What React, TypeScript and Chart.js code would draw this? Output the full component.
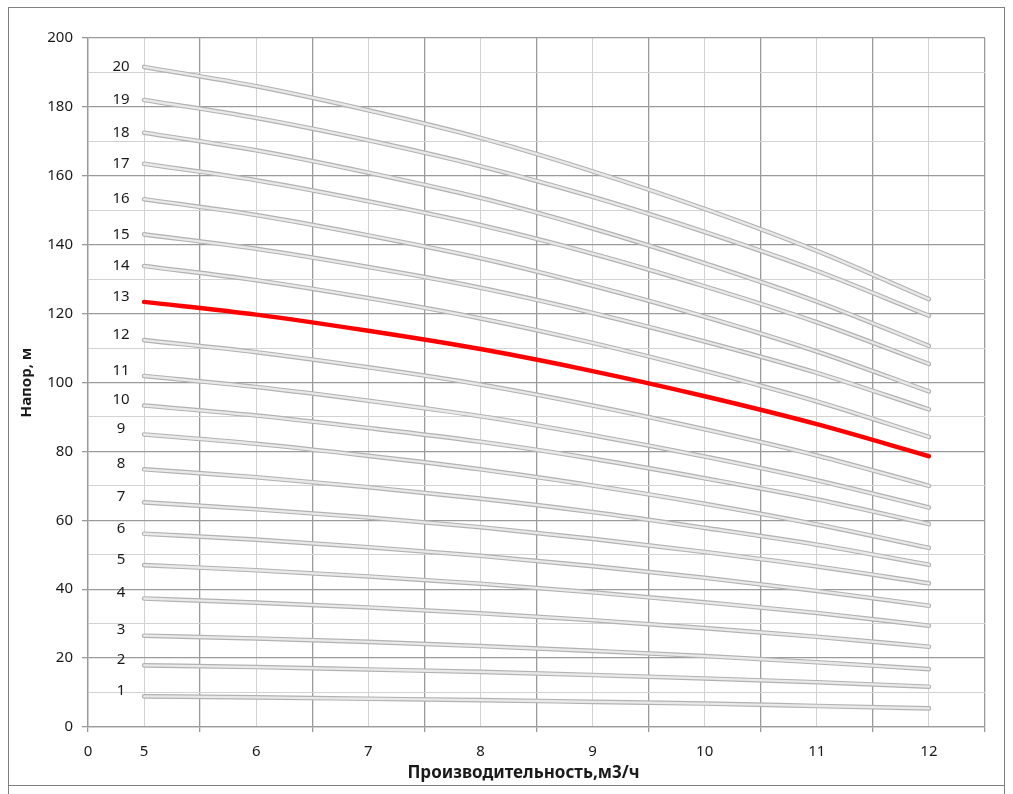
import React, { useEffect, useRef } from "react";
import { Chart, registerables } from "chart.js";

Chart.register(...registerables);

// Flow rate, m3/h
const flows = [5, 6, 7, 8, 9, 10, 11, 12];
// Label shown at the left edge of the x axis
const xOriginLabel = "0";

// Head, m — one curve per number of stages (1..20)
const h01 = [8.9, 8.6, 8.2, 7.8, 7.3, 6.8, 6.1, 5.4];
const h02 = [17.9, 17.4, 16.7, 16.0, 15.1, 14.1, 13.0, 11.7];
const h03 = [26.5, 25.7, 24.7, 23.5, 22.1, 20.6, 18.8, 16.8];
const h04 = [37.3, 36.1, 34.7, 33.0, 31.0, 28.7, 26.2, 23.3];
const h05 = [47.0, 45.5, 43.7, 41.6, 39.1, 36.2, 33.1, 29.4];
const h06 = [56.1, 54.4, 52.2, 49.7, 46.7, 43.3, 39.5, 35.2];
const h07 = [65.2, 63.2, 60.8, 58.0, 54.6, 50.8, 46.6, 41.7];
const h08 = [74.8, 72.5, 69.6, 66.3, 62.4, 57.8, 52.9, 47.1];
const h09 = [84.9, 82.2, 78.7, 74.8, 70.1, 64.8, 58.8, 52.0];
const h10 = [93.3, 90.4, 86.8, 82.8, 77.9, 72.2, 66.1, 58.9];
const h11 = [101.9, 98.7, 94.7, 90.2, 84.7, 78.5, 71.6, 63.7];
const h12 = [112.3, 108.8, 104.4, 99.4, 93.3, 86.4, 78.8, 70.0];
const h13 = [123.4, 119.7, 115.0, 109.7, 103.3, 96.0, 87.9, 78.6];
const h14 = [133.8, 129.7, 124.5, 118.6, 111.5, 103.4, 94.5, 84.2];
const h15 = [143.0, 138.8, 133.5, 127.5, 120.2, 111.9, 102.8, 92.2];
const h16 = [153.2, 148.6, 142.7, 136.1, 128.1, 119.1, 109.0, 97.4];
const h17 = [163.5, 158.7, 152.6, 145.7, 137.4, 127.9, 117.5, 105.4];
const h18 = [172.5, 167.4, 160.9, 153.6, 144.7, 134.6, 123.5, 110.6];
const h19 = [182.0, 176.8, 170.3, 162.8, 153.9, 143.7, 132.4, 119.4];
const h20 = [191.6, 186.0, 179.0, 171.0, 161.3, 150.4, 138.2, 124.2];

const curves = [h01, h02, h03, h04, h05, h06, h07, h08, h09, h10,
  h11, h12, h13, h14, h15, h16, h17, h18, h19, h20];
const curveNames = curves.map((_, i) => String(i + 1));
const highlighted = "13";

const xTitle = "Производительность,м3/ч";
const yTitle = "Напор, м";

const FONT = "'Noto Sans', 'DejaVu Sans', sans-serif";
const TEXT = "#1a1a1a";
const GRID_MAJOR = "#9a9a9a";
const GRID_MINOR = "#d2d2d2";
const FRAME = "#808080";

const toPoints = (vals: number[]) => vals.map((v, i) => ({ x: flows[i], y: v }));

export default function App() {
  const ref = useRef<HTMLCanvasElement | null>(null);

  useEffect(() => {
    if (!ref.current) return;
    const datasets: any[] = [];
    curves.forEach((vals, i) => {
      const name = curveNames[i];
      const common = {
        data: toPoints(vals),
        pointRadius: 0,
        cubicInterpolationMode: "monotone",
        borderCapStyle: "round",
      };
      if (name === highlighted) {
        datasets.push({ ...common, label: name, borderColor: "#ff0000", borderWidth: 4.5, order: 0, isMain: true });
      } else {
        datasets.push({ ...common, label: name + "-outline", borderColor: "#b2b2b2", borderWidth: 4.6, order: 2 });
        datasets.push({ ...common, label: name, borderColor: "#e9e9e9", borderWidth: 2.3, order: 1, isMain: true });
      }
    });

    const curveLabels = {
      id: "curveLabels",
      afterDatasetsDraw(chart: any) {
        const ctx = chart.ctx;
        ctx.save();
        ctx.font = `15px ${FONT}`;
        ctx.fillStyle = TEXT;
        ctx.textAlign = "center";
        ctx.textBaseline = "middle";
        chart.data.datasets.forEach((ds: any, i: number) => {
          if (!ds.isMain) return;
          const meta = chart.getDatasetMeta(i);
          const p = meta.data[0];
          if (!p) return;
          const dy = Number(ds.label) >= 14 ? 0 : -5.5;
          ctx.fillText(ds.label, p.x - 23, p.y + dy);
        });
        ctx.restore();
      },
    };

    const xTitlePlugin = {
      id: "xTitle",
      afterDraw(chart: any) {
        const ctx = chart.ctx;
        const a = chart.chartArea;
        ctx.save();
        ctx.font = `bold 17px ${FONT}`;
        ctx.fillStyle = TEXT;
        ctx.textAlign = "center";
        ctx.textBaseline = "middle";
        ctx.fillText(xTitle, (a.left + a.right) / 2 - 13, chart.height - 12);
        ctx.restore();
      },
    };

    const isHalf = (v: number) => Math.abs(v - Math.round(v)) > 0.25;

    const chart = new Chart(ref.current, {
      type: "line",
      data: { datasets },
      plugins: [curveLabels, xTitlePlugin],
      options: {
        responsive: false,
        animation: false,
        layout: { padding: { top: 30, right: 19, left: 0, bottom: 0 } },
        plugins: {
          legend: { display: false },
          tooltip: { enabled: false },
          title: { display: false },
        },
        scales: {
          x: {
            type: "linear",
            min: 4.5,
            max: 12.5,
            afterFit: (s: any) => { s.height = 58; },
            ticks: {
              stepSize: 0.5,
              autoSkip: false,
              maxRotation: 0,
              padding: 11,
              font: { family: FONT, size: 15 },
              color: TEXT,
              callback: (v: any) => {
                const n = Number(v);
                if (Math.abs(n - 4.5) < 1e-6) return xOriginLabel;
                return isHalf(n) ? "" : String(Math.round(n));
              },
            },
            grid: {
              color: (c: any) => (c.tick && isHalf(c.tick.value) ? GRID_MAJOR : GRID_MINOR),
              tickColor: (c: any) => (c.tick && isHalf(c.tick.value) ? GRID_MAJOR : "rgba(0,0,0,0)"),
              lineWidth: (c: any) => (c.tick && isHalf(c.tick.value) ? 1.3 : 1),
              tickLength: 5,
            },
            border: { color: GRID_MAJOR, width: 1.3 },
          },
          y: {
            type: "linear",
            min: 0,
            max: 200,
            afterFit: (s: any) => { s.width = 79; },
            ticks: {
              stepSize: 10,
              autoSkip: false,
              padding: 9,
              font: { family: FONT, size: 15 },
              color: TEXT,
              callback: (v: any) => (Number(v) % 20 === 0 ? String(v) : ""),
            },
            grid: {
              color: (c: any) => (c.tick && c.tick.value % 20 === 0 ? GRID_MAJOR : GRID_MINOR),
              tickColor: (c: any) => (c.tick && c.tick.value % 20 === 0 ? GRID_MAJOR : "rgba(0,0,0,0)"),
              lineWidth: (c: any) => (c.tick && c.tick.value % 20 === 0 ? 1.3 : 1),
              tickLength: 6,
            },
            border: { color: GRID_MAJOR, width: 1.3 },
            title: {
              display: true,
              text: yTitle,
              color: TEXT,
              font: { family: FONT, size: 15, weight: "bold" },
              padding: { top: 9, bottom: 4 },
            },
          },
        },
      } as any,
    });
    return () => chart.destroy();
  }, []);

  return (
    <div>
      <div
        style={{
          position: "absolute",
          top: 7,
          left: 8,
          boxSizing: "border-box",
          width: 997,
          height: 779,
          border: `1px solid ${FRAME}`,
          background: "#fff",
        }}
      >
        <canvas ref={ref} width={995} height={777} style={{ display: "block" }} />
      </div>
      <div
        style={{
          position: "absolute",
          top: 786,
          left: 8,
          boxSizing: "border-box",
          width: 997,
          height: 8,
          borderLeft: `1px solid ${FRAME}`,
          borderRight: `1px solid ${FRAME}`,
        }}
      />
    </div>
  );
}
